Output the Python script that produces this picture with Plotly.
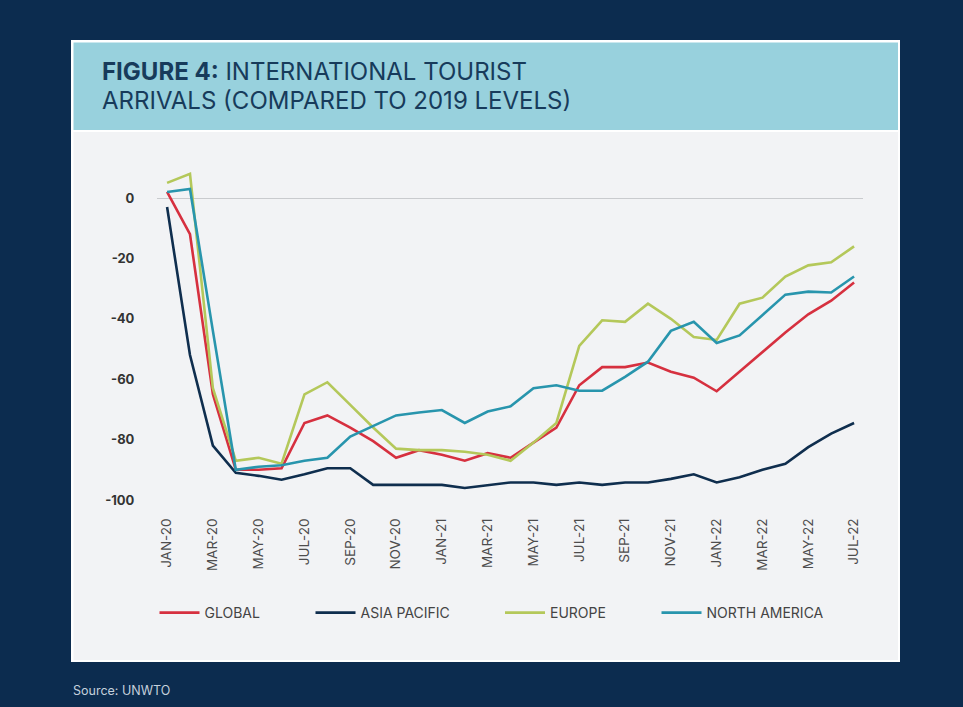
import plotly.graph_objects as go

W, H = 963, 707

months = ["JAN-20","FEB-20","MAR-20","APR-20","MAY-20","JUN-20","JUL-20","AUG-20","SEP-20","OCT-20","NOV-20","DEC-20",
          "JAN-21","FEB-21","MAR-21","APR-21","MAY-21","JUN-21","JUL-21","AUG-21","SEP-21","OCT-21","NOV-21","DEC-21",
          "JAN-22","FEB-22","MAR-22","APR-22","MAY-22","JUN-22","JUL-22"]

global_vals = [2, -12, -65, -90, -90, -89.5, -74.5, -72, -76, -80.5, -86, -83.5,
               -85, -87, -84.5, -86, -81, -76, -62, -56, -56, -54.5, -57.5, -59.5,
               -64, -57.5, -51, -44.5, -38.5, -34, -28]
asia_vals = [-3, -52, -82, -91, -92, -93.3, -91.5, -89.5, -89.5, -95, -95, -95,
             -95, -96, -95, -94.2, -94.2, -95, -94.2, -95, -94.2, -94.2, -93, -91.5,
             -94.2, -92.5, -90, -88, -82.5, -78, -74.5]
europe_vals = [5, 8, -63, -87, -86, -88, -65, -61, -68.5, -76, -83, -83.5,
               -83.5, -84, -85, -87, -81, -74.5, -49, -40.5, -41, -35, -40, -46,
               -47, -35, -33, -26, -22.3, -21.3, -16]
na_vals = [2, 3, -44, -90, -89, -88.5, -87, -86, -79, -75.5, -72, -71,
           -70.2, -74.5, -70.7, -69, -63, -62, -63.8, -63.8, -59.2, -54.2, -44, -41,
           -48, -45.5, -38.8, -32, -31, -31.3, -26]

series_names = ["GLOBAL", "ASIA PACIFIC", "EUROPE", "NORTH AMERICA"]
series_vals = [global_vals, asia_vals, europe_vals, na_vals]
series_colors = ["#d6303f", "#0f2e4e", "#b4c85a", "#2895ad"]

y_ticks = [0, -20, -40, -60, -80, -100]
x_tick_idx = list(range(0, 31, 2))
x_tick_text = [months[i] for i in x_tick_idx]

def px(x):
    return x / W

def py(y):
    return 1 - y / H

legend_ids = ["legend", "legend2", "legend3", "legend4"]
legend_x = [154.5, 310.5, 500, 656.5]

fig = go.Figure()
for name, vals, col, lid in zip(series_names, series_vals, series_colors, legend_ids):
    fig.add_trace(go.Scatter(x=list(range(len(months))), y=vals, mode="lines", name=name,
                             line=dict(color=col, width=2.6), legend=lid))

FONT = "Inter"

shapes = [
    dict(type="rect", xref="paper", yref="paper", x0=px(71), x1=px(900), y0=py(662), y1=py(40),
         fillcolor="#ffffff", line=dict(width=0), layer="below"),
    dict(type="rect", xref="paper", yref="paper", x0=px(73.5), x1=px(898), y0=py(130), y1=py(42.5),
         fillcolor="#98d1dd", line=dict(width=0), layer="below"),
    dict(type="rect", xref="paper", yref="paper", x0=px(73.5), x1=px(898), y0=py(660), y1=py(132),
         fillcolor="#f2f3f5", line=dict(width=0), layer="below"),
]

annotations = [
    dict(xref="paper", yref="paper", x=px(100), y=py(71.5), xanchor="left", yanchor="middle",
         text="<b>FIGURE 4:</b> INTERNATIONAL TOURIST",
         showarrow=False, align="left", font=dict(family=FONT, size=24, color="#173b5b")),
    dict(xref="paper", yref="paper", x=px(100), y=py(100.5), xanchor="left", yanchor="middle",
         text="ARRIVALS (COMPARED TO 2019 LEVELS)",
         showarrow=False, align="left", font=dict(family=FONT, size=24, color="#173b5b")),
    dict(xref="paper", yref="paper", x=px(71), y=py(690), xanchor="left", yanchor="middle",
         text="Source: UNWTO", showarrow=False, font=dict(family=FONT, size=12.5, color="#c5d0dc")),
]

legend_common = dict(orientation="h", y=py(613), xanchor="left", yanchor="middle",
                     bgcolor="rgba(0,0,0,0)", font=dict(family=FONT, size=14, color="#444444"),
                     itemwidth=40, tracegroupgap=0)

layout_kwargs = {}
for lid, lx in zip(legend_ids, legend_x):
    layout_kwargs[lid] = dict(legend_common, x=px(lx))

fig.update_layout(
    width=W, height=H,
    margin=dict(l=0, r=0, t=0, b=0),
    paper_bgcolor="#0c2c4f",
    plot_bgcolor="rgba(0,0,0,0)",
    shapes=shapes,
    annotations=annotations,
    showlegend=True,
    xaxis=dict(domain=[px(157), px(863)], range=[-0.44, 30.39], showgrid=False, zeroline=False,
               showline=False, tickmode="array", tickvals=x_tick_idx, ticktext=x_tick_text,
               tickangle=-90, ticks="outside", ticklen=2, tickcolor="rgba(0,0,0,0)",
               tickfont=dict(family=FONT, size=13.5, color="#4d4d4d")),
    yaxis=dict(domain=[py(510), py(167.8)], range=[-103.31, 10], showgrid=False, zeroline=True,
               zerolinecolor="#c9cbce", zerolinewidth=1, showline=False,
               tickmode="array", tickvals=y_ticks, ticktext=[str(v) for v in y_ticks],
               ticks="outside", ticklen=19, tickcolor="rgba(0,0,0,0)",
               tickfont=dict(family=FONT, size=13, color="#333333", weight="bold")),
    **layout_kwargs,
)

fig.write_html("out.html", config={"displayModeBar": False},
               post_script="document.body.style.margin='0px';document.body.style.overflow='hidden';")
